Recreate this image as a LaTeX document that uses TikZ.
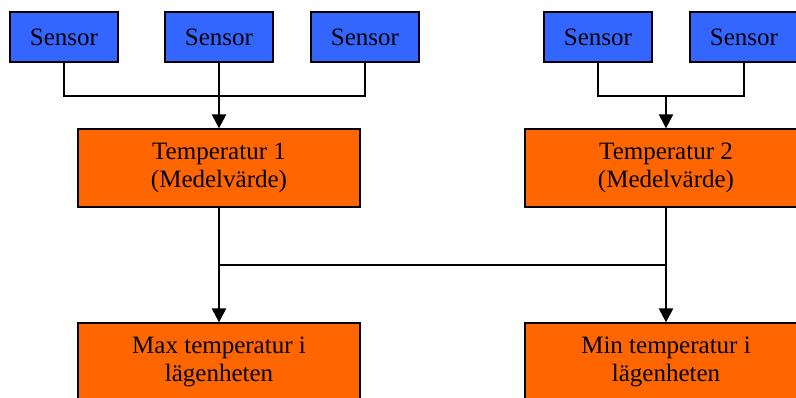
\documentclass[tikz,border=0pt]{standalone}
\usepackage{fontspec}
\setmainfont{Liberation Serif}
\usepackage{tikz}
\usetikzlibrary{positioning,arrows.meta}

\definecolor{sensorblue}{HTML}{3366FF}
\definecolor{tempor}{HTML}{FF6600}

\begin{document}
\begin{tikzpicture}[x=1pt, y=-1pt,
    sensorbox/.style={draw, line width=1.3pt, fill=sensorblue, minimum width=108pt, minimum height=50pt, inner sep=0pt, font=\fontsize{25}{28}\selectfont},
    tempbox/.style={draw, line width=1.3pt, fill=tempor, minimum width=282pt, minimum height=78pt, inner sep=0pt, align=center, font=\fontsize{25}{28}\selectfont},
    pil/.style={line width=2.4pt, -{Triangle[width=14pt,length=14pt]}}]
      \useasboundingbox (0,0) rectangle (796,398);
      \clip (0,0) rectangle (796,398);

      % Sensorer
      \node[sensorbox] (s1) at (64,37) {Sensor};
      \node[sensorbox] (s2) at (219,37) {Sensor};
      \node[sensorbox] (s3) at (365,37) {Sensor};
      \node[sensorbox] (s4) at (598,37) {Sensor};
      \node[sensorbox] (s5) at (744,37) {Sensor};

      % Temperaturer
      \node[tempbox] (t1) at (219,168) {Temperatur 1\\(Medelvärde)};
      \node[tempbox] (t2) at (666,168) {Temperatur 2\\(Medelvärde)};
      \node[tempbox] (max) at (219,362) {Max temperatur i\\lägenheten};
      \node[tempbox] (min) at (666,362) {Min temperatur i\\lägenheten};

      % Knutpunkter
      \coordinate (j1) at (219,96);
      \coordinate (j2) at (666,96);
      \coordinate (j3) at (219,265);
      \coordinate (j4) at (666,265);

      % Linjer
      \draw[line width=1.3pt] (s1.south) |- (j1);
      \draw[line width=1.3pt] (s3.south) |- (j1);
      \draw[line width=1.3pt] (s2.south) -- (j1);
      \draw[line width=1.3pt] (s4.south) |- (j2);
      \draw[line width=1.3pt] (s5.south) |- (j2);
      \draw[pil] (j1) -- (t1.north);
      \draw[pil] (j2) -- (t2.north);
      \draw[line width=1.3pt] (j3) -- (j4);
      \draw[pil] (t1.south) -- (max.north);
      \draw[pil] (t2.south) -- (min.north);
    \end{tikzpicture}
\end{document}
